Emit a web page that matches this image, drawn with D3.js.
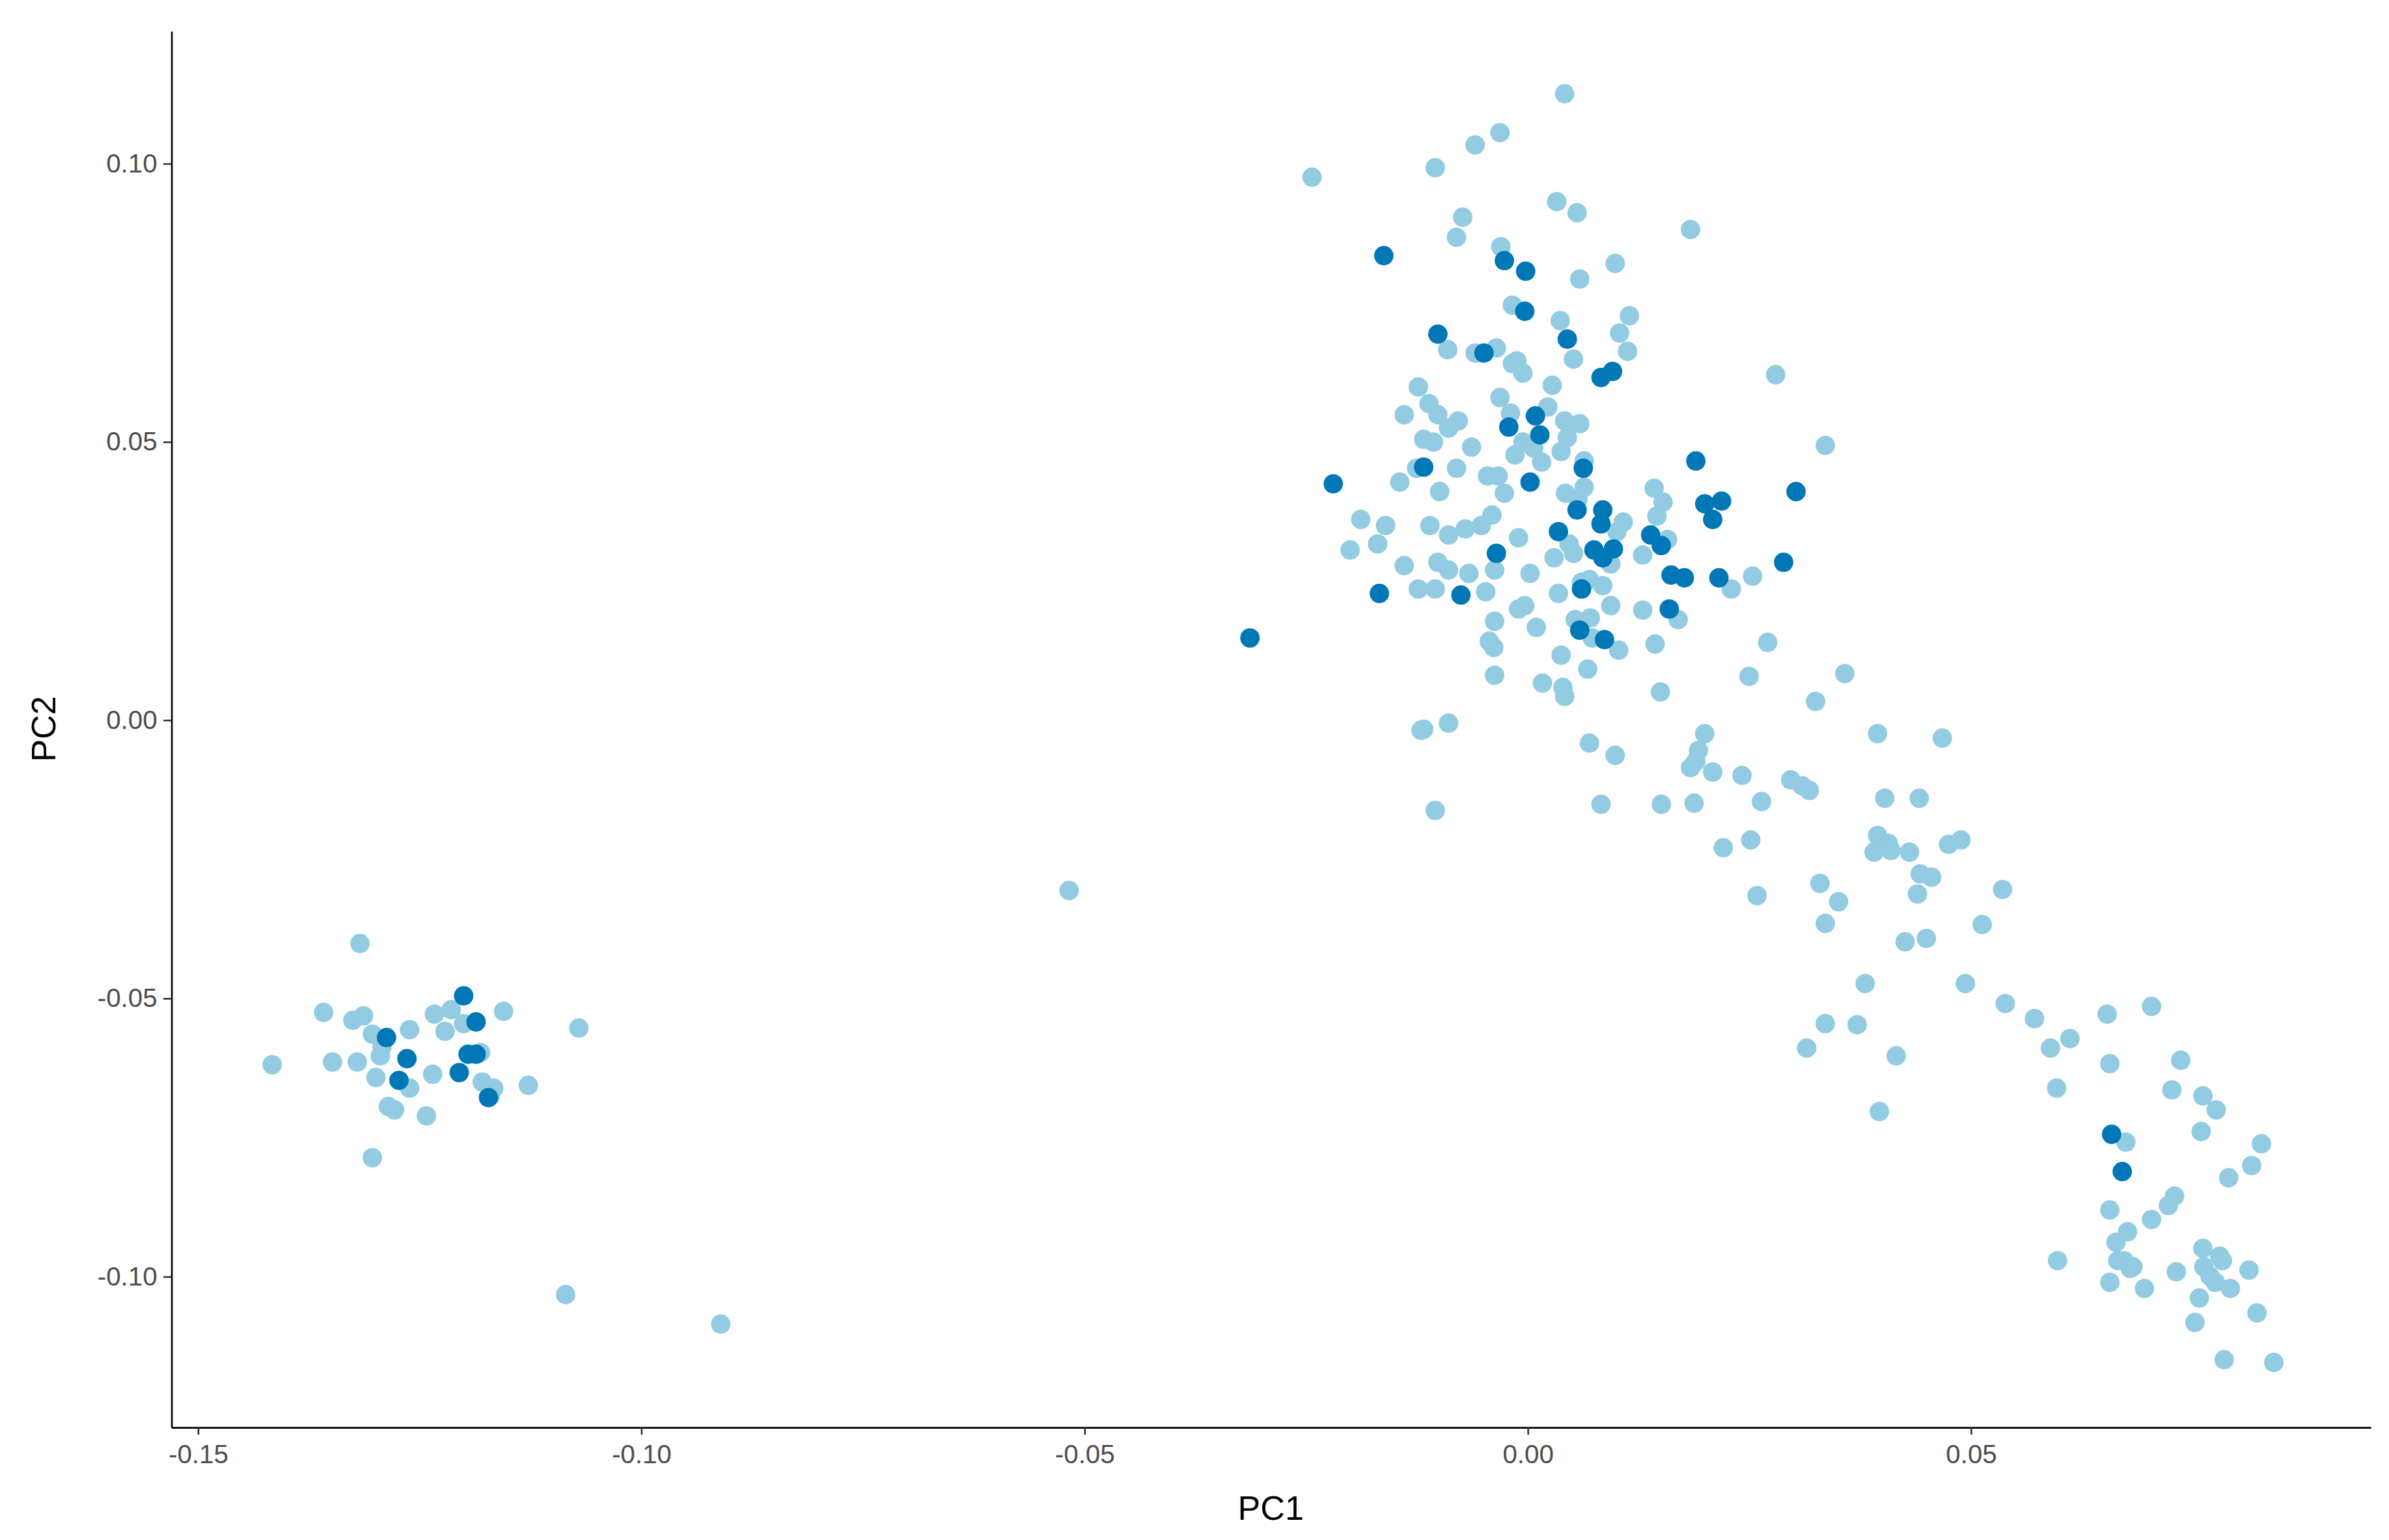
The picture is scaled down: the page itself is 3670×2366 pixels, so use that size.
<!DOCTYPE html>
<html>
<head>
<meta charset="utf-8">
<script src="https://cdn.jsdelivr.net/npm/d3@7"></script>
<style>
  html, body { margin: 0; padding: 0; background: #fff; }
  svg { display: block; }
  text { font-family: Arial, "Liberation Sans", sans-serif; }
</style>
</head>
<body>
<svg id="chart"></svg>
<script>
// light group [pc1, pc2]
var lightPoints = [
  [-0.1416,-0.0620],[-0.1358,-0.0526],[-0.1348,-0.0615],[-0.1325,-0.0540],[-0.1313,-0.0532],
  [-0.1320,-0.0615],[-0.1317,-0.0402],[-0.1303,-0.0565],[-0.1294,-0.0604],[-0.1292,-0.0587],
  [-0.1299,-0.0643],[-0.1285,-0.0695],[-0.1278,-0.0701],[-0.1303,-0.0787],[-0.1261,-0.0662],
  [-0.1261,-0.0557],[-0.1242,-0.0712],[-0.1233,-0.0529],[-0.1214,-0.0521],[-0.1221,-0.0560],
  [-0.1235,-0.0637],[-0.1200,-0.0546],[-0.1181,-0.0598],[-0.1179,-0.0651],[-0.1166,-0.0662],
  [-0.1170,-0.0676],[-0.1155,-0.0524],[-0.1127,-0.0657],[-0.1070,-0.0554],[-0.1085,-0.1033],
  [-0.0910,-0.1086],[-0.0517,-0.0307],
  [0.0042,0.1125],[-0.0243,0.0975],[-0.0104,0.0992],[-0.0059,0.1033],[-0.0031,0.1055],
  [-0.0073,0.0903],[-0.0080,0.0867],[-0.0030,0.0850],[0.0033,0.0931],[0.0056,0.0911],
  [0.0184,0.0881],[0.0059,0.0792],[0.0099,0.0820],[-0.0017,0.0745],[0.0037,0.0717],
  [0.0115,0.0726],[0.0104,0.0695],[0.0113,0.0662],[0.0052,0.0648],[-0.0090,0.0665],
  [-0.0059,0.0659],[-0.0035,0.0668],[-0.0017,0.0640],[-0.0012,0.0645],[-0.0005,0.0623],
  [0.0028,0.0601],[-0.0123,0.0598],[-0.0111,0.0568],[-0.0139,0.0548],[-0.0101,0.0548],
  [-0.0078,0.0537],[-0.0089,0.0524],[-0.0031,0.0579],[-0.0019,0.0551],[0.0023,0.0562],
  [0.0042,0.0537],[0.0059,0.0532],[0.0045,0.0507],[0.0336,0.0493],[0.0280,0.0620],
  [-0.0117,0.0504],[-0.0106,0.0499],[-0.0063,0.0490],[-0.0005,0.0499],[0.0007,0.0488],
  [-0.0014,0.0476],[0.0016,0.0463],[0.0038,0.0482],[0.0064,0.0465],[-0.0125,0.0452],
  [-0.0080,0.0452],[-0.0144,0.0427],[-0.0099,0.0410],[-0.0045,0.0438],[-0.0033,0.0438],
  [-0.0026,0.0407],[0.0043,0.0407],[0.0064,0.0418],[0.0057,0.0396],[0.0143,0.0416],
  [0.0153,0.0391],[0.0146,0.0366],[-0.0188,0.0360],[-0.0160,0.0349],[-0.0110,0.0349],
  [-0.0089,0.0332],[-0.0070,0.0343],[-0.0052,0.0349],[-0.0040,0.0368],[0.0108,0.0355],
  [0.0101,0.0338],[-0.0200,0.0305],[-0.0169,0.0316],[-0.0139,0.0277],[-0.0101,0.0283],
  [-0.0089,0.0269],[-0.0066,0.0263],[-0.0010,0.0327],[0.0047,0.0316],[0.0052,0.0299],
  [0.0094,0.0280],[0.0130,0.0296],[0.0158,0.0324],[-0.0037,0.0269],[0.0003,0.0263],
  [0.0030,0.0291],[0.0061,0.0247],[0.0070,0.0252],[0.0085,0.0241],[0.0254,0.0258],
  [0.0230,0.0235],[-0.0123,0.0235],[-0.0104,0.0235],[-0.0047,0.0230],[-0.0003,0.0205],
  [-0.0010,0.0199],[0.0035,0.0227],[0.0094,0.0205],[0.0130,0.0197],[0.0170,0.0180],
  [-0.0037,0.0177],[0.0010,0.0166],[0.0054,0.0180],[0.0071,0.0183],[-0.0043,0.0141],
  [-0.0038,0.0130],[0.0073,0.0147],[0.0103,0.0125],[0.0144,0.0136],[0.0271,0.0139],
  [0.0038,0.0116],[0.0068,0.0091],[-0.0037,0.0080],[0.0017,0.0066],[0.0040,0.0058],
  [0.0042,0.0042],[0.0150,0.0050],[0.0250,0.0078],[0.0358,0.0083],[0.0325,0.0033],
  [-0.0117,-0.0017],[-0.0120,-0.0019],[-0.0089,-0.0006],[0.0070,-0.0042],[0.0099,-0.0064],
  [0.0200,-0.0025],[0.0395,-0.0025],[0.0468,-0.0033],[0.0193,-0.0055],[0.0190,-0.0075],
  [0.0184,-0.0086],[0.0209,-0.0094],[0.0242,-0.0100],[0.0297,-0.0108],[0.0310,-0.0119],
  [0.0318,-0.0127],[-0.0104,-0.0163],[0.0083,-0.0152],[0.0151,-0.0152],[0.0188,-0.0150],
  [0.0264,-0.0147],[0.0403,-0.0141],[0.0442,-0.0141],[0.0252,-0.0216],[0.0221,-0.0230],
  [0.0395,-0.0208],[0.0407,-0.0222],[0.0391,-0.0238],[0.0410,-0.0235],[0.0431,-0.0238],
  [0.0475,-0.0224],[0.0489,-0.0216],[0.0443,-0.0277],[0.0456,-0.0283],[0.0440,-0.0313],
  [0.0259,-0.0316],[0.0330,-0.0294],[0.0351,-0.0327],[0.0336,-0.0366],[0.0536,-0.0305],
  [0.0513,-0.0368],[0.0450,-0.0393],[0.0426,-0.0399],[0.0494,-0.0474],[0.0381,-0.0474],
  [0.0539,-0.0510],[0.0336,-0.0546],[0.0372,-0.0548],[0.0315,-0.0590],[0.0416,-0.0604],
  [0.0397,-0.0704],[0.0572,-0.0537],[0.0590,-0.0590],[0.0612,-0.0573],[0.0654,-0.0529],
  [0.0704,-0.0515],[0.0597,-0.0662],[0.0657,-0.0618],[0.0737,-0.0612],[0.0727,-0.0665],
  [0.0762,-0.0676],[0.0777,-0.0701],[0.0760,-0.0740],[0.0828,-0.0762],[0.0817,-0.0801],
  [0.0791,-0.0823],[0.0675,-0.0759],[0.0730,-0.0856],[0.0723,-0.0873],[0.0657,-0.0881],
  [0.0677,-0.0920],[0.0704,-0.0898],[0.0664,-0.0939],[0.0673,-0.0972],[0.0666,-0.0972],
  [0.0680,-0.0986],[0.0683,-0.0983],[0.0732,-0.0992],[0.0762,-0.0950],[0.0781,-0.0964],
  [0.0784,-0.0972],[0.0763,-0.0983],[0.0770,-0.1000],[0.0776,-0.1011],[0.0793,-0.1022],
  [0.0758,-0.1039],[0.0814,-0.0989],[0.0823,-0.1066],[0.0657,-0.1011],[0.0696,-0.1022],
  [0.0598,-0.0972],[0.0753,-0.1083],[0.0786,-0.1150],[0.0842,-0.1155]
];

// dark group [pc1, pc2]
var darkPoints = [
  [-0.0162,0.0834],[-0.0026,0.0825],[-0.0002,0.0806],[-0.0003,0.0734],[-0.0101,0.0693],
  [-0.0049,0.0659],[0.0045,0.0684],[0.0096,0.0626],[0.0083,0.0615],[0.0009,0.0546],
  [-0.0021,0.0526],[0.0014,0.0512],[-0.0117,0.0454],[0.0063,0.0452],[-0.0219,0.0424],
  [0.0003,0.0427],[0.0190,0.0465],[0.0303,0.0410],[0.0200,0.0388],[0.0219,0.0393],
  [0.0209,0.0360],[0.0085,0.0377],[0.0083,0.0352],[0.0056,0.0377],[0.0035,0.0338],
  [0.0139,0.0332],[0.0151,0.0313],[0.0075,0.0305],[0.0097,0.0307],[0.0085,0.0291],
  [-0.0035,0.0299],[0.0289,0.0283],[0.0162,0.0260],[0.0177,0.0255],[0.0216,0.0255],
  [0.0061,0.0235],[-0.0167,0.0227],[-0.0075,0.0224],[0.0160,0.0199],[0.0059,0.0161],
  [0.0087,0.0144],[-0.0313,0.0147],[0.0659,-0.0745],[0.0671,-0.0812],
  [-0.1200,-0.0496],[-0.1186,-0.0543],[-0.1287,-0.0571],[-0.1264,-0.0609],[-0.1195,-0.0601],
  [-0.1186,-0.0601],[-0.1273,-0.0648],[-0.1205,-0.0634],[-0.1172,-0.0679]
];

var xTicks = [-0.15, -0.10, -0.05, 0.00, 0.05];
var yTicks = [-0.10, -0.05, 0.00, 0.05, 0.10];

var W = 1550, H = 999.3;
var svg = d3.select('#chart')
    .attr('width', 3670).attr('height', 2366)
    .attr('viewBox', '0 0 ' + W + ' ' + H);

var plotLeft = 111, plotRight = 1538, plotTop = 20, plotBottom = 926;

var x = d3.scaleLinear().domain([-0.1530, 0.0951]).range([plotLeft, plotRight]);
var y = d3.scaleLinear().domain([-0.1271, 0.1238]).range([plotBottom, plotTop]);

var fmt = function (d) { return d3.format('.2f')(d).replace('\u2212', '-'); };

var xAxis = svg.append('g')
    .attr('transform', 'translate(0,' + plotBottom + ')')
    .call(d3.axisBottom(x).tickValues(xTicks).tickFormat(fmt).tickSize(5).tickSizeOuter(0));
var yAxis = svg.append('g')
    .attr('transform', 'translate(' + plotLeft + ',0)')
    .call(d3.axisLeft(y).tickValues(yTicks).tickFormat(fmt).tickSize(5).tickSizeOuter(0));

[xAxis, yAxis].forEach(function (g) {
    g.select('.domain').attr('stroke', '#000').attr('stroke-width', 1.1);
    g.selectAll('.tick line').attr('stroke', '#333').attr('stroke-width', 1.1);
    g.selectAll('.tick text')
        .attr('fill', '#4d4d4d')
        .style('font-size', '17px')
        .style('font-family', 'Arial, "Liberation Sans", sans-serif');
});
xAxis.selectAll('.tick text').attr('dy', '0.9em');
yAxis.selectAll('.tick text').attr('x', -9);

svg.append('g').selectAll('circle')
    .data(lightPoints)
    .enter().append('circle')
    .attr('cx', function (d) { return x(d[0]); })
    .attr('cy', function (d) { return y(d[1]); })
    .attr('r', 6.3)
    .attr('fill', '#92CBE2');

svg.append('g').selectAll('circle')
    .data(darkPoints)
    .enter().append('circle')
    .attr('cx', function (d) { return x(d[0]); })
    .attr('cy', function (d) { return y(d[1]); })
    .attr('r', 6.3)
    .attr('fill', '#0077B7');

svg.append('text')
    .attr('x', (plotLeft + plotRight) / 2).attr('y', 986)
    .attr('text-anchor', 'middle')
    .style('font-size', '22px')
    .text('PC1');

svg.append('text')
    .attr('transform', 'translate(36,' + ((plotTop + plotBottom) / 2) + ') rotate(-90)')
    .attr('text-anchor', 'middle')
    .style('font-size', '22px')
    .text('PC2');
</script>
</body>
</html>
